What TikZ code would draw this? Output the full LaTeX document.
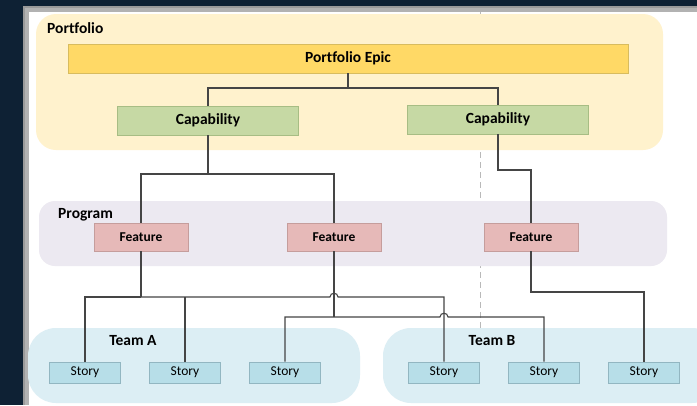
\documentclass[tikz,border=0pt]{standalone}
\usepackage{fontspec}
\setmainfont[Ligatures=NoCommon]{Carlito}
\definecolor{navy}{HTML}{0E2134}
\definecolor{frame}{HTML}{9A9A9A}
\definecolor{pfbg}{HTML}{FFF2CD}
\definecolor{epicf}{HTML}{FFD966}
\definecolor{epicd}{HTML}{D8BC5E}
\definecolor{capf}{HTML}{C6D9A4}
\definecolor{capd}{HTML}{A7BD84}
\definecolor{pgbg}{HTML}{ECE9F1}
\definecolor{featf}{HTML}{E6B9B8}
\definecolor{featd}{HTML}{C59D9C}
\definecolor{tmbg}{HTML}{DCEEF4}
\definecolor{storyf}{HTML}{B7DEE8}
\definecolor{storyd}{HTML}{92B6C1}
\definecolor{linec}{HTML}{454545}
\begin{document}
\begin{tikzpicture}[x=1pt,y=-1pt,
  boxbase/.style={draw,line width=0.8pt,inner sep=0pt,text=black},
  epicbox/.style={boxbase,fill=epicf,draw=epicd,minimum width=560pt,minimum height=29pt,font=\fontsize{15.5}{18}\selectfont\bfseries},
  capbox/.style={boxbase,fill=capf,draw=capd,minimum width=181pt,minimum height=29pt,font=\fontsize{15.5}{18}\selectfont\bfseries},
  featbox/.style={boxbase,fill=featf,draw=featd,minimum width=94pt,minimum height=28pt,font=\fontsize{13.5}{16}\selectfont\bfseries},
  storybox/.style={boxbase,fill=storyf,draw=storyd,minimum width=71pt,minimum height=21pt,font=\fontsize{13.5}{16}\selectfont},
  grouplabel/.style={inner sep=0pt,text=black,font=\fontsize{15.5}{18}\selectfont\bfseries},
  conn/.style={draw=linec,line width=1.1pt},
  divider/.style={draw=gray!55,line width=0.7pt,dash pattern=on 6pt off 4pt}
]
\useasboundingbox (0,0) rectangle (697,405);
\begin{scope}
\clip (0,0) rectangle (697,405);
% background frame
\fill[navy] (0,0) rectangle (697,405);
\fill[frame] (23,6) rectangle (697,405);
\fill[gray!60] (25,8) rectangle (697,405);
\fill[white] (29,12) rectangle (697,405);
% divider
\draw[divider] (480,12) -- (480,328);
% regions
\fill[pfbg,rounded corners=20pt] (36,14) rectangle (663,150);
\fill[pgbg,rounded corners=16pt] (39,201) rectangle (667,266);
\fill[tmbg,rounded corners=28pt] (28,328) rectangle (360,403);
\fill[tmbg,rounded corners=28pt] (383,328) rectangle (720,403);
\end{scope}
% group labels
\node[grouplabel,anchor=west] (lpf) at (47,28) {Portfolio};
\node[grouplabel,anchor=west] (lpg) at (58,215) {Program};
\node[grouplabel] (lta) at (133,341) {Team A};
\node[grouplabel] (ltb) at (492,341) {Team B};
% boxes
\node[epicbox] (epic) at (348,58.5) {Portfolio Epic};
\node[capbox] (cap1) at (208,120.5) {Capability};
\node[capbox] (cap2) at (498,119.5) {Capability};
\node[featbox] (f1) at (141,237) {Feature};
\node[featbox] (f2) at (334,237) {Feature};
\node[featbox] (f3) at (531,237) {Feature};
\node[storybox] (s1) at (85,372.5) {Story};
\node[storybox] (s2) at (185,372.5) {Story};
\node[storybox] (s3) at (285,372.5) {Story};
\node[storybox] (s4) at (444,372.5) {Story};
\node[storybox] (s5) at (544,372.5) {Story};
\node[storybox] (s6) at (644,372.5) {Story};
% junction points
\coordinate (e1) at (348,88);
\coordinate (c1) at (208,174);
\coordinate (c2) at (498,170);
\coordinate (j1) at (141,297);
\coordinate (h1a) at (330,297);
\coordinate (h1b) at (338,297);
\coordinate (j2) at (334,317);
\coordinate (h2a) at (440,317);
\coordinate (h2b) at (448,317);
\coordinate (j3) at (531,292);
% connectors
\draw[conn] (epic.south) -- (e1);
\draw[conn] (cap1.north) |- (e1) -| (cap2.north);
\draw[conn] (cap1.south) -- (c1);
\draw[conn] (f1.north) |- (c1) -| (f2.north);
\draw[conn] (cap2.south) -- (c2) -| (f3.north);
\draw[conn] (f1.south) -- (j1);
\draw[conn] (s1.north) |- (j1);
\draw[conn] (s2.north) -- (s2.north |- j1);
\draw[conn] (j1) -- (h1a) .. controls (330,292) and (338,292) .. (h1b) -| (s4.north);
\draw[conn] (f2.south) -- (j2);
\draw[conn] (s3.north) |- (j2) -- (h2a) .. controls (440,312) and (448,312) .. (h2b) -| (s5.north);
\draw[conn] (f3.south) -- (j3) -| (s6.north);
\end{tikzpicture}
\end{document}
